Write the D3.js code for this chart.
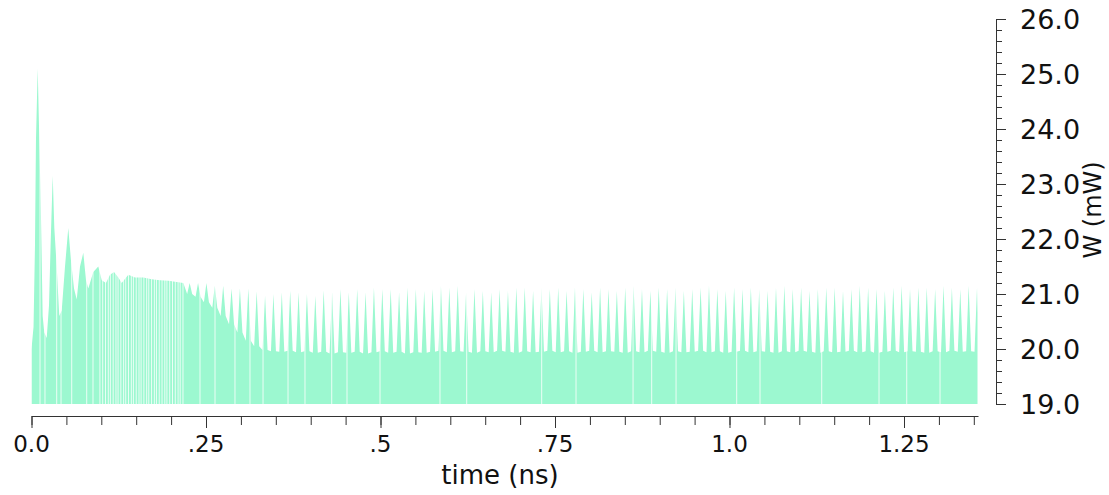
<!DOCTYPE html>
<html lang="en">
<head>
  <meta charset="UTF-8">
  <title>W (mW) vs time (ns)</title>
  <script src="https://d3js.org/d3.v7.min.js"></script>
  <style>
    body { margin: 0; background: #fff; }
    text { font-family: 'DejaVu Sans', sans-serif; fill: #111; }
    .axis path, .axis line { stroke: #333; stroke-width: 1; }
  </style>
</head>
<body>
  <svg width="1109" height="495"></svg>

  <script>
    // start-up transient, read point by point (time in ns, power in mW)
    const earlyT = [0, 0.0029, 0.0050, 0.0064, 0.0089, 0.0112, 0.0136, 0.0160, 0.0183, 0.0218,
                    0.0251, 0.0275, 0.0304, 0.0327, 0.0361, 0.0398, 0.0433, 0.0480, 0.0527, 0.0566,
                    0.0609, 0.0648, 0.0695, 0.0742, 0.0781, 0.0814, 0.0885, 0.0957, 0.1006, 0.1067,
                    0.1125, 0.1182, 0.1244, 0.1292, 0.1387, 0.1483, 0.1602, 0.1722, 0.1841, 0.1960,
                    0.2080, 0.2175];
    const earlyW = [20.0, 20.4, 21.9, 23.8, 25.1, 23.8, 22.4, 20.6, 20.3, 20.2,
                    20.8, 21.95, 23.15, 22.2, 21.5, 20.6, 20.7, 21.5, 22.2, 21.6,
                    21.1, 20.9, 21.5, 21.75, 21.25, 21.1, 21.4, 21.5, 21.25, 21.2,
                    21.35, 21.4, 21.3, 21.2, 21.35, 21.3, 21.3, 21.27, 21.25, 21.24,
                    21.22, 21.2];

    // periodic spike train after the transient
    const spikeStart = 0.2266;   // ns, first spike
    const spikeDt = 0.012;       // ns between spikes
    const spikeTop = [21.2, 21.2, 21.2, 21.15, 21.15, 21.1, 21.1, 21.1, 21.05,
                      20.97, 21.0, 21.03, 21.06, 21.03, 21.0, 20.97, 21.07, 21.03, 21.09,
                      21.03, 21.09, 21.03, 21.12, 21.09, 21.09, 21.03, 21.12, 21.09, 21.06,
                      21.09, 21.15, 21.12, 21.15, 21.03, 21.09, 21.06, 21.03, 21.09, 21.06,
                      21.12, 21.12, 21.06, 21.12,
                      21.09, 21.12, 21.06, 21.12, 21.09, 21.03, 21.12, 21.09, 21.06, 21.12,
                      21.15, 21.09, 21.06, 21.12, 21.09, 21.12, 21.06, 21.09, 21.12, 21.15,
                      21.09, 21.06, 21.12, 21.09, 21.12, 21.09, 21.06, 21.12, 21.15, 21.09,
                      21.12, 21.06, 21.09, 21.12, 21.12, 21.06, 21.09, 21.15, 21.12, 21.09,
                      21.06, 21.12, 21.15, 21.09, 21.12, 21.12, 21.09, 21.15, 21.12, 21.09,
                      21.15, 21.12];
    const spikeFloor = [21.0, 20.95, 20.85, 20.75, 20.6, 20.45, 20.3, 20.15, 20.05,
                        19.98, 19.96, 19.95, 19.97, 19.94, 19.96, 19.93, 19.95, 19.92, 19.94,
                        19.93, 19.95, 19.92, 19.94, 19.96, 19.93, 19.95, 19.92, 19.94, 19.93,
                        19.95, 19.97, 19.94, 19.96, 19.95, 19.93, 19.96, 19.94, 19.97, 19.95,
                        19.93, 19.96, 19.94, 19.95,
                        19.97, 19.94, 19.96, 19.93, 19.95, 19.97, 19.94, 19.96, 19.95, 19.93,
                        19.96, 19.94, 19.97, 19.95, 19.93, 19.96, 19.94, 19.95, 19.97, 19.94,
                        19.96, 19.93, 19.95, 19.97, 19.94, 19.96, 19.95, 19.93, 19.96, 19.94,
                        19.97, 19.95, 19.93, 19.96, 19.94, 19.95, 19.97, 19.94, 19.96, 19.93,
                        19.95, 19.97, 19.94, 19.96, 19.95, 19.93, 19.96, 19.94, 19.97, 19.95,
                        19.96, 19.95];

    // thin drop-outs to the baseline (ns)
    const gapT = [0.0122, 0.0193, 0.0361, 0.0423, 0.0576, 0.0791, 0.0881,
                  0.098, 0.102, 0.106, 0.110, 0.113, 0.117, 0.121, 0.124, 0.128, 0.132,
                  0.135, 0.139, 0.143, 0.146, 0.150, 0.154, 0.157, 0.161, 0.165, 0.168,
                  0.172, 0.176, 0.179, 0.183, 0.187, 0.191, 0.194, 0.198, 0.202, 0.206,
                  0.210, 0.213, 0.217, 0.2414, 0.2629, 0.2915, 0.3130,
                  0.3317, 0.3675, 0.3918, 0.4301, 0.4520, 0.4993, 0.5852, 0.6235, 0.7309,
                  0.7801, 0.8618, 0.8885, 0.9234, 1.0103, 1.0437, 1.1321, 1.2142, 1.2539,
                  1.3016];

    const xLabelValues = [0, 0.25, 0.5, 0.75, 1.0, 1.25];
    const xLabelText = ["0.0", ".25", ".5", ".75", "1.0", "1.25"];
    const yLabelValues = [19, 20, 21, 22, 23, 24, 25, 26];

    const svg = d3.select("svg");
    const x = d3.scaleLinear().domain([0, 1.356]).range([31.5, 978]);
    const y = d3.scaleLinear().domain([19, 26]).range([404, 19]);

    // build trace vertices
    const pts = earlyT.map((t, i) => [t, earlyW[i]]);
    spikeTop.forEach((top, k) => {
      const tc = spikeStart + k * spikeDt;
      const half = spikeDt * 0.3;
      pts.push([tc - half, spikeFloor[k]], [tc, top], [tc + half, spikeFloor[k]]);
    });

    svg.append("clipPath").attr("id", "plotclip")
      .append("rect")
      .attr("x", x(0)).attr("y", 0)
      .attr("width", x(1.356) - x(0) - 0.5).attr("height", y(19));

    const area = d3.area()
      .x(d => x(d[0]))
      .y0(y(19))
      .y1(d => y(d[1]));

    const plot = svg.append("g").attr("clip-path", "url(#plotclip)");
    plot.append("path")
      .datum(pts)
      .attr("fill", "#9cf8d0")
      .attr("d", area);

    plot.selectAll("rect.gap")
      .data(gapT)
      .enter().append("rect")
      .attr("class", "gap")
      .attr("x", d => x(d) - 0.5)
      .attr("y", y(26))
      .attr("width", 1)
      .attr("height", y(19) - y(26))
      .attr("fill", "#fff")
      .attr("opacity", 0.8);

    // x axis
    const xAxisY = 416;
    svg.append("g").attr("class", "axis")
      .attr("transform", `translate(0,${xAxisY})`)
      .call(d3.axisBottom(x).tickValues(d3.range(0, 1.3501, 0.05)).tickSize(9).tickSizeOuter(0).tickFormat(""));
    svg.append("g").attr("class", "axis")
      .attr("transform", `translate(0,${xAxisY})`)
      .call(d3.axisBottom(x).tickValues(xLabelValues).tickSize(12).tickSizeOuter(0).tickFormat(""))
      .select(".domain").remove();

    svg.selectAll("text.xlab")
      .data(xLabelValues)
      .enter().append("text")
      .attr("class", "xlab")
      .attr("x", d => x(d))
      .attr("y", 452)
      .attr("text-anchor", "middle")
      .style("font-size", "23px")
      .text((d, i) => xLabelText[i]);

    svg.append("text")
      .attr("x", 500)
      .attr("y", 484)
      .attr("text-anchor", "middle")
      .style("font-size", "26px")
      .text("time (ns)");

    // y axis on the right
    const yAxisX = 996;
    svg.append("g").attr("class", "axis")
      .attr("transform", `translate(${yAxisX},0)`)
      .call(d3.axisRight(y).tickValues(d3.range(19, 26.001, 0.2)).tickSize(6).tickSizeOuter(0).tickFormat(""));
    svg.append("g").attr("class", "axis")
      .attr("transform", `translate(${yAxisX},0)`)
      .call(d3.axisRight(y).tickValues(yLabelValues).tickSize(10).tickSizeOuter(0).tickFormat(""))
      .select(".domain").remove();

    svg.selectAll("text.ylab")
      .data(yLabelValues)
      .enter().append("text")
      .attr("class", "ylab")
      .attr("x", 1020)
      .attr("y", d => y(d))
      .attr("dy", "0.36em")
      .style("font-size", "27px")
      .text(d => d3.format(".1f")(d));

    svg.append("text")
      .attr("transform", "translate(1101,210) rotate(-90)")
      .attr("text-anchor", "middle")
      .style("font-size", "24px")
      .text("W (mW)");
  </script>
</body>
</html>
